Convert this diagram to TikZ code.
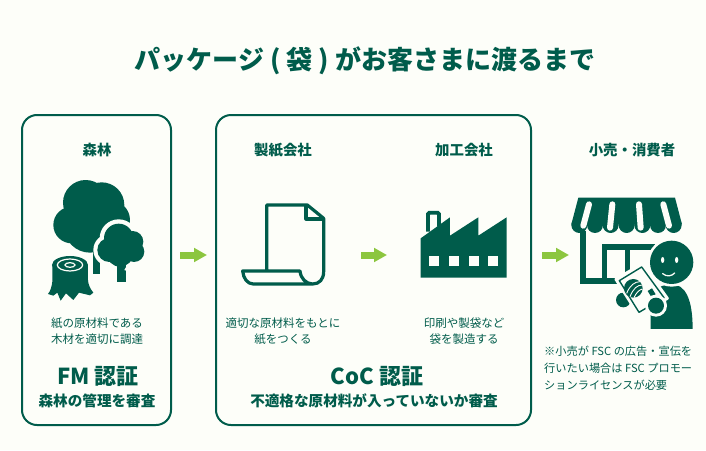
\documentclass[tikz,border=0pt]{standalone}
\usepackage{fontspec}
\setmainfont{Noto Sans CJK JP}
\usetikzlibrary{arrows.meta,positioning}
\definecolor{fsc}{HTML}{005C4B}
\definecolor{bgc}{HTML}{FDFEF9}
\definecolor{arr}{HTML}{8CC63F}
\tikzstyle{panel}=[draw=fsc,line width=2pt,rounded corners=15pt,fill=none]
\tikzstyle{heading}=[text=fsc,font=\bfseries\fontsize{14.4}{16}\selectfont,inner sep=0]
\tikzstyle{body}=[text=fsc,font=\fontsize{11.5}{16.5}\selectfont,align=center,inner sep=0]
\tikzstyle{cert}=[text=fsc,font=\bfseries\fontsize{22}{25}\selectfont,inner sep=0]
\tikzstyle{certsub}=[text=fsc,font=\bfseries\fontsize{14.6}{17}\selectfont,inner sep=0]
\tikzstyle{flow}=[draw=arr,line width=7pt,-{Triangle[width=13.5pt,length=13pt]},shorten >=-1pt]
\tikzstyle{ink}=[fill=fsc,draw=none]
\tikzstyle{gap}=[fill=bgc,draw=none]
\begin{document}
\begin{tikzpicture}[x=1pt,y=-1pt]
\path[use as bounding box,fill=bgc] (0,0) rectangle (706,450);

\node[text=fsc,font=\bfseries\fontsize{26}{30}\selectfont,inner sep=0] (title) at (365,61) {パッケージ ( 袋 ) がお客さまに渡るまで};

\draw[panel] (22,115) rectangle (171,425);
\draw[panel] (216,115) rectangle (531,425);

\node[heading] (forest) at (97,150) {森林};
\node[heading] (paper) at (283,150) {製紙会社};
\node[heading] (maker) at (464,150) {加工会社};
\node[heading] (shop) at (632,150) {小売・消費者};

\node[body] (forestnote) at (97,331) {紙の原材料である\\木材を適切に調達};
\node[body] (papernote) at (283,331) {適切な原材料をもとに\\紙をつくる};
\node[body] (makernote) at (464,331) {印刷や製袋など\\袋を製造する};
\node[body,align=left,anchor=north west,font=\fontsize{11.2}{17}\selectfont] (shopnote) at (544,345.5) {※小売が FSC の広告・宣伝を\\行いたい場合は FSC プロモー\\ションライセンスが必要};

\node[cert] (fm) at (98,376) {FM 認証};
\node[certsub] (fmsub) at (97,401) {森林の管理を審査};
\node[cert] (coc) at (377,376) {CoC 認証};
\node[certsub] (cocsub) at (374,401) {不適格な原材料が入っていないか審査};

\coordinate (a1) at (180,255);
\coordinate (a2) at (206,255);
\coordinate (b1) at (361,255);
\coordinate (b2) at (386,255);
\coordinate (c1) at (542,255);
\coordinate (c2) at (568,255);
\draw[flow] (a1) -- (a2);
\draw[flow] (b1) -- (b2);
\draw[flow] (c1) -- (c2);

% trees and stump
\begin{scope}[shift={(20,170)},x=0.3333pt,y=-0.3333pt]
\fill[ink] (218,200) rectangle (241,312);
\foreach \x/\y/\r in {197/98/68,245/105/68,155/165/55,272/150/58,210/170/78,230/190/55}
  \fill[ink] (\x,\y) circle[radius=\r];
\foreach \x/\y/\r in {296/205/57,342/215/43,268/240/48,342/245/42,300/255/52}
  \fill[gap] (\x,\y) circle[radius=\r];
\fill[ink] (292,250) rectangle (318,335);
\foreach \x/\y/\r in {296/205/44,338/215/32,268/240/36,342/245/31,300/250/40}
  \fill[ink] (\x,\y) circle[radius=\r];
\fill[gap] (313,300) -- (322,285) -- (318,302) -- cycle;
\fill[gap] (150,285) ellipse[x radius=68,y radius=36];
\fill[ink] (97,285) -- (97,335) .. controls (95,350) and (92,362) .. (84,372)
  -- (100,377) -- (112,368) -- (122,392) -- (138,370) -- (160,390) -- (177,368)
  -- (210,376) -- (220,368) .. controls (210,355) and (205,345) .. (204,330) -- (204,285) -- cycle;
\fill[ink] (150,285) ellipse[x radius=54,y radius=27];
\draw[bgc,line width=1.2pt] (150,285) ellipse[x radius=38,y radius=18];
\draw[bgc,line width=1.2pt] (150,285) ellipse[x radius=15,y radius=7];
\end{scope}

% sheet of paper
\begin{scope}[shift={(220,190)},x=0.3333pt,y=-0.3333pt,line join=round]
\draw[fsc,line width=3.2pt] (140,243) -- (140,45) -- (262,45) -- (311,85) -- (311,245)
  .. controls (311,268) and (298,282) .. (278,282) -- (100,282)
  .. controls (82,282) and (70,265) .. (68,243) -- (240,243)
  .. controls (242,265) and (258,282) .. (278,282);
\draw[fsc,line width=3.2pt] (258,48) -- (258,87) -- (311,87);
\end{scope}

% factory
\begin{scope}[shift={(220,190)},x=0.3333pt,y=-0.3333pt]
\draw[fsc,line width=3.8pt,rounded corners=1.5pt] (624,125) -- (624,68) -- (657,68) -- (657,110);
\fill[ink] (602,263) -- (602,145) -- (690,82) -- (690,137) -- (775,82) -- (775,137)
  -- (860,82) -- (860,263) -- cycle;
\foreach \x in {628,688,746,805}
  \fill[gap] (\x,198) rectangle ++(30,30);
\end{scope}

% shop and customer
\begin{scope}[shift={(530,185)},x=0.3333pt,y=-0.3333pt]
\fill[ink] (150,138) rectangle (168,296);
\fill[ink] (150,278) rectangle (300,296);
\fill[ink] (215,178) rectangle (375,195);
\fill[ink] (215,178) rectangle (232,285);
\fill[ink] (285,178) rectangle (301,285);
\fill[ink] (145,38) -- (435,38) -- (456,118) -- (124,118) -- cycle;
\foreach \x in {148,195,242,290,337,384,431}
  \fill[ink] (\x,120) circle[radius=24];
\draw[bgc,line width=6pt,line cap=round] (177,58) -- (160,122);
\draw[bgc,line width=6pt,line cap=round] (247,58) -- (240,128);
\draw[bgc,line width=6pt,line cap=round] (327,58) -- (332,128);
\draw[bgc,line width=6pt,line cap=round] (400,58) -- (417,122);
\fill[ink] (362,432) -- (362,335) .. controls (370,310) and (400,298) .. (425,298)
  .. controls (465,298) and (488,340) .. (488,432) -- cycle;
\fill[gap] (425,232) circle[radius=73];
\fill[ink] (425,232) circle[radius=65];
\fill[gap] (398,225) ellipse[x radius=5,y radius=9];
\fill[gap] (440,225) ellipse[x radius=5,y radius=9];
\draw[bgc,line width=1.3pt,line cap=round] (398,266) .. controls (410,276) and (425,274) .. (434,264);
\fill[ink] (280,345) circle[radius=22];
\fill[bgc,draw=bgc,line width=3pt,line join=round] (258,283) -- (337,236) -- (412,340) -- (327,392) -- cycle;
\draw[fsc,line width=1.4pt,line join=round] (268,287) -- (335,246) -- (402,338) -- (327,382) -- cycle;
\fill[ink] (310,310) circle[radius=28];
\draw[bgc,line width=0.9pt] (290,325) .. controls (300,300) and (315,290) .. (330,290);
\draw[bgc,line width=0.9pt] (300,335) .. controls (310,310) and (322,300) .. (337,300);
\draw[bgc,line width=0.9pt] (312,338) .. controls (318,325) and (326,315) .. (337,312);
\fill[ink] (353,318) -- (366,310) -- (377,328) -- (364,336) -- cycle;
\fill[gap] (378,362) circle[radius=33];
\fill[ink] (378,362) circle[radius=24];
\end{scope}
\end{tikzpicture}
\end{document}
